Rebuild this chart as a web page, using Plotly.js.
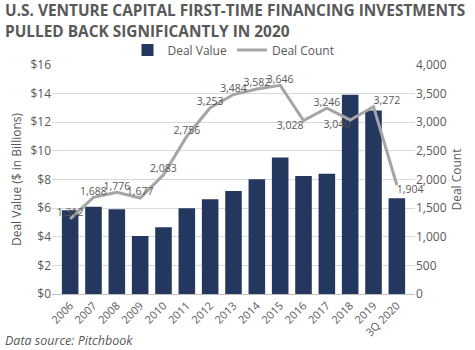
<!DOCTYPE html>
<html><head><meta charset="utf-8">
<script src="https://cdn.plot.ly/plotly-3.0.1.min.js"></script>
<style>body{margin:0;padding:0;}#c{width:475px;height:350px;}</style>
</head><body><div id="c"></div>
<script>
const categories = ["2006","2007","2008","2009","2010","2011","2012","2013","2014","2015","2016","2017","2018","2019","3Q 2020"];
const dealValue = [5.85,6.1,5.92,4.06,4.66,5.99,6.62,7.2,8.02,9.53,8.25,8.41,13.92,12.82,6.69];
const dealCount = [1312,1688,1776,1677,2083,2756,3253,3484,3582,3646,3028,3246,3040,3272,1904];
const countLabels = dealCount.map(v => v.toLocaleString('en-US'));
const labelPos = ["top center","top center","top center","top center","top center","top center","top center","top center","top center","top center","bottom left","top center","bottom left","top right","bottom right"];

const grey = '#595959';
const data = [
  {type:'bar', name:'Deal Value', x:categories, y:dealValue, marker:{color:'#24375F'}, yaxis:'y', hoverinfo:'skip'},
  {type:'scatter', mode:'lines+text', name:'Deal Count', x:categories, y:dealCount, yaxis:'y2',
   line:{color:'#A5A5A5', width:3}, text:countLabels, textposition:labelPos,
   textfont:{size:10.5, color:grey, family:'Open Sans'}, cliponaxis:false}
];
const layout = {
  width:475, height:350,
  margin:{l:52, r:60, t:65, b:56},
  paper_bgcolor:'white', plot_bgcolor:'white',
  font:{family:'Open Sans', color:grey, size:11},
  bargap:0.29,
  showlegend:true,
  legend:{orientation:'h', x:0.5, xanchor:'center', y:1.065, yanchor:'middle', font:{size:12, color:grey}, traceorder:'normal'},
  xaxis:{type:'category', tickangle:-45, tickfont:{size:11, color:grey}, showline:true, linecolor:'#BFBFBF', linewidth:1, ticks:'', showgrid:false},
  yaxis:{range:[0,16], dtick:2, tickprefix:'$', tickfont:{size:12, color:grey}, gridcolor:'#D9D9D9', zeroline:false,
    title:{text:'Deal Value ($ in Billions)', font:{size:12, color:grey}, standoff:6}},
  yaxis2:{range:[0,4000], dtick:500, overlaying:'y', side:'right', tickformat:',d', tickfont:{size:12, color:grey}, showgrid:false, zeroline:false,
    title:{text:'Deal Count', font:{size:12, color:grey}, standoff:6}},
  annotations:[
    {text:'<b>U.S. VENTURE CAPITAL FIRST-TIME FINANCING INVESTMENTS</b>', xref:'paper', yref:'paper', x:-0.135, y:1.238, xanchor:'left', yanchor:'middle', showarrow:false, font:{size:15.4, color:grey}},
    {text:'<b>PULLED BACK SIGNIFICANTLY IN 2020</b>', xref:'paper', yref:'paper', x:-0.135, y:1.146, xanchor:'left', yanchor:'middle', showarrow:false, font:{size:15.4, color:grey}},
    {text:'<i>Data source: Pitchbook</i>', xref:'paper', yref:'paper', x:-0.135, y:-0.205, xanchor:'left', yanchor:'middle', showarrow:false, font:{size:12.5, color:grey}}
  ]
};
Plotly.newPlot('c', data, layout, {displayModeBar:false, staticPlot:true});
</script></body></html>
